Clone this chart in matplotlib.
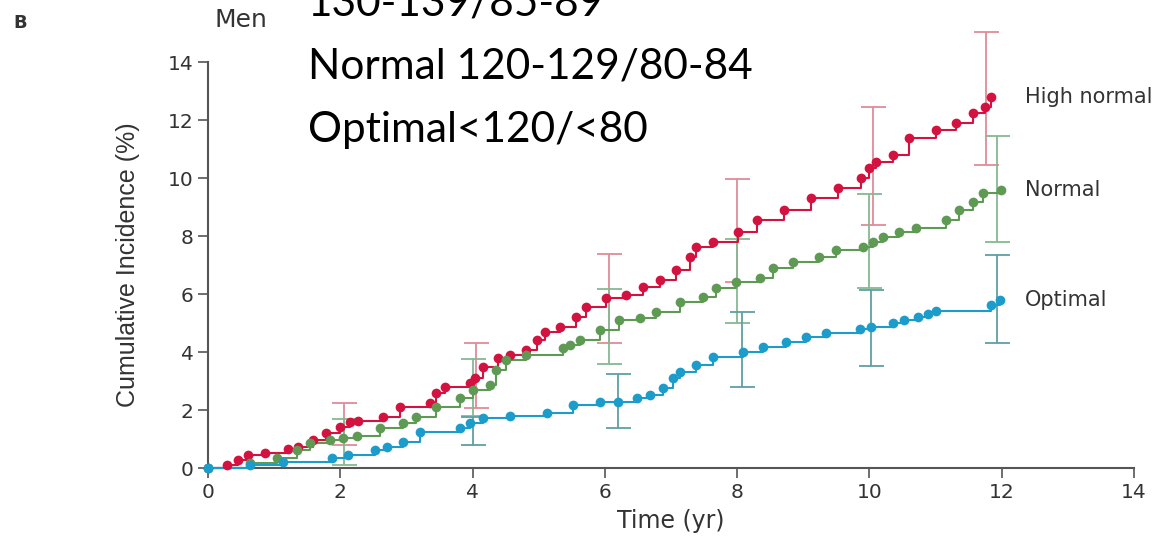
"""
Cumulative incidence by blood pressure category (men), step curves with CIs.
"""

import matplotlib
matplotlib.use('Agg')
import matplotlib.pyplot as plt
import numpy as np

# event points: time (yr), cumulative incidence (%)
high_t = [0, 0.28, 0.46, 0.61, 0.86, 1.21, 1.36, 1.59, 1.79, 1.99, 2.15, 2.27,
          2.65, 2.9, 3.35, 3.45, 3.58, 3.96, 4.03, 4.16, 4.39, 4.56, 4.81, 4.97,
          5.09, 5.32, 5.57, 5.72, 6.02, 6.32, 6.58, 6.83, 7.08, 7.28, 7.38,
          7.63, 8.01, 8.3, 8.71, 9.12, 9.52, 9.87, 10.0, 10.1, 10.35, 10.6,
          11.0, 11.31, 11.56, 11.74, 11.84]
high_y = [0, 0.1, 0.28, 0.45, 0.53, 0.64, 0.74, 0.97, 1.2, 1.43, 1.6, 1.63,
          1.77, 2.11, 2.23, 2.57, 2.8, 2.92, 3.09, 3.49, 3.78, 3.9, 4.07, 4.41,
          4.7, 4.87, 5.22, 5.56, 5.85, 5.97, 6.25, 6.48, 6.83, 7.29, 7.63,
          7.8, 8.15, 8.55, 8.9, 9.3, 9.64, 9.99, 10.33, 10.56, 10.79, 11.37,
          11.66, 11.89, 12.23, 12.44, 12.8]

normal_t = [0, 0.63, 1.04, 1.34, 1.54, 1.84, 2.04, 2.25, 2.6, 2.95, 3.15, 3.45,
            3.81, 4.01, 4.26, 4.36, 4.51, 4.81, 5.37, 5.47, 5.62, 5.92, 6.22,
            6.53, 6.78, 7.13, 7.48, 7.68, 7.99, 8.34, 8.54, 8.84, 9.24, 9.5,
            9.9, 10.05, 10.2, 10.45, 10.7, 11.16, 11.36, 11.56, 11.71, 11.99]
normal_y = [0, 0.16, 0.33, 0.62, 0.85, 0.97, 1.02, 1.1, 1.37, 1.54, 1.77, 2.11,
            2.4, 2.69, 2.86, 3.38, 3.72, 3.9, 4.13, 4.24, 4.41, 4.76, 5.1,
            5.16, 5.39, 5.73, 5.91, 6.2, 6.43, 6.54, 6.89, 7.11, 7.29, 7.52,
            7.63, 7.8, 7.98, 8.15, 8.26, 8.55, 8.9, 9.18, 9.47, 9.59]

optimal_t = [0, 0.63, 1.14, 1.87, 2.12, 2.52, 2.7, 2.95, 3.2, 3.81, 3.96, 4.16,
             4.56, 5.12, 5.52, 5.92, 6.2, 6.48, 6.68, 6.88, 7.03, 7.13, 7.38,
             7.63, 8.09, 8.39, 8.74, 9.04, 9.35, 9.85, 10.03, 10.35, 10.53,
             10.73, 10.88, 11.0, 11.84, 11.97]
optimal_y = [0, 0.1, 0.22, 0.33, 0.45, 0.62, 0.74, 0.91, 1.25, 1.37, 1.54, 1.71,
             1.8, 1.89, 2.17, 2.29, 2.27, 2.4, 2.52, 2.75, 3.09, 3.32, 3.55,
             3.84, 4.01, 4.18, 4.36, 4.53, 4.64, 4.78, 4.85, 4.99, 5.1,
             5.2, 5.31, 5.4, 5.62, 5.79]

# confidence intervals: time, lower, upper
high_ci_t = [2.05, 4.05, 6.07, 8.0, 10.05, 11.76]
high_ci_lo = [0.79, 2.06, 4.3, 6.4, 8.38, 10.45]
high_ci_hi = [2.23, 4.32, 7.38, 9.97, 12.46, 15.05]

normal_ci_t = [2.05, 4.0, 6.07, 8.0, 10.0, 11.93]
normal_ci_lo = [0.12, 1.8, 3.57, 4.99, 6.2, 7.8]
normal_ci_hi = [1.68, 3.76, 6.16, 7.88, 9.44, 11.46]

optimal_ci_t = [4.0, 6.2, 8.07, 10.03, 11.93]
optimal_ci_lo = [0.79, 1.38, 2.8, 3.53, 4.32]
optimal_ci_hi = [1.77, 3.23, 5.37, 6.14, 7.34]

series = [
    ('High normal', high_t, high_y, high_ci_t, high_ci_lo, high_ci_hi,
     '#d3123f', '#e08a98'),
    ('Normal', normal_t, normal_y, normal_ci_t, normal_ci_lo, normal_ci_hi,
     '#5f9a55', '#86b891'),
    ('Optimal', optimal_t, optimal_y, optimal_ci_t, optimal_ci_lo, optimal_ci_hi,
     '#1c9ccb', '#5e9fa3'),
]

W, H = 1159, 543
fig = plt.figure(figsize=(W / 100, H / 100), dpi=100)
ax = fig.add_axes([208 / W, 1 - 468 / H, (1134 - 208) / W, (468 - 62) / H])

for name, t, y, ct, lo, hi, col, ci_col in series:
    ct, lo, hi = np.array(ct), np.array(lo), np.array(hi)
    mid = (lo + hi) / 2
    ax.errorbar(ct, mid, yerr=(hi - lo) / 2, fmt='none', ecolor=ci_col,
                elinewidth=1.3, capsize=9, capthick=1.3, zorder=2, clip_on=False)
    ax.plot(t, y, drawstyle='steps-post', color=col, lw=1.5, zorder=3,
            clip_on=False)
    ax.plot(t, y, 'o', color=col, ms=7, mec='none', zorder=4, clip_on=False)
    ax.text(12.35, y[-1], name, fontsize=15, color='#333333',
            va='center', ha='left', clip_on=False)

ax.set_xlim(0, 14)
ax.set_ylim(0, 14)
ax.set_xticks(range(0, 15, 2))
ax.set_yticks(range(0, 15, 2))
for s in ['top', 'right']:
    ax.spines[s].set_visible(False)
for s in ['left', 'bottom']:
    ax.spines[s].set_color('#555555')
    ax.spines[s].set_linewidth(1.5)
ax.tick_params(colors='#555555', labelcolor='#333333', labelsize=14.5,
               length=7, width=1.2)
ax.set_xlabel('Time (yr)', fontsize=17, color='#333333', labelpad=5)
ax.set_ylabel('Cumulative Incidence (%)', fontsize=18, color='#333333',
              family=['Liberation Sans Narrow', 'Liberation Sans', 'DejaVu Sans'],
              labelpad=20)

fig.text(13 / W, 1 - 28 / H, 'B', fontsize=13, color='#333333',
         fontweight='bold')
fig.text(241 / W, 1 - 20 / H, 'Men', fontsize=18, color='#333333',
         ha='center', va='center')

big = ['130-139/85-89', 'Normal 120-129/80-84', 'Optimal<120/<80']
for i, line in enumerate(big):
    fig.text(308 / W, 1 - (15 + 63.3 * i) / H, line, fontsize=30.5,
             family=['Lato', 'DejaVu Sans'], color='black', va='baseline')

plt.savefig('out.png', dpi=100)
plt.close()
